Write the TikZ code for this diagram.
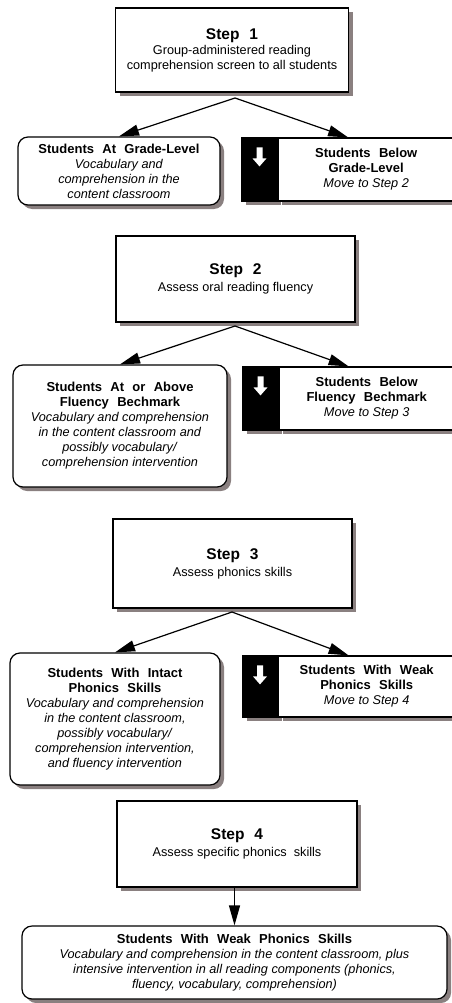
\documentclass[tikz,border=0pt]{standalone}
\usepackage{fontspec}
\setmainfont{Liberation Sans}
\newfontfamily\headfont[WordSpace=2.3]{Liberation Sans}
\usetikzlibrary{arrows.meta,shadows,calc}
\definecolor{shadowgray}{RGB}{138,128,128}

\newcommand\steptitle[1]{{\headfont\bfseries\fontsize{15.5}{17}\selectfont #1}}
\newcommand\grouphead[1]{{\headfont\bfseries\fontsize{13}{15}\selectfont #1}}

\begin{document}
\begin{tikzpicture}[x=1pt, y=1pt, line width=1.2pt,
    >={Triangle[length=20pt,width=11pt]},
    font=\fontsize{12.7}{15}\selectfont,
    box/.style={draw, fill=white, align=center, inner sep=0pt,
      drop shadow={shadow xshift=4pt, shadow yshift=-4pt, fill=shadowgray, opacity=1}},
    stepbox/.style={box},
    outcome/.style={box, rounded corners=10pt},
    stripe/.style={box, fill=black, minimum width=35},
    movebox/.style={box, anchor=west},
    pics/downmark/.style={code={
      \fill[white] (-3,-10) -- (3,-10) -- (3,-21) -- (7,-21) -- (0,-29)
        -- (-7,-21) -- (-3,-21) -- cycle;}}]
    \useasboundingbox (0,0) rectangle (451,-1003);

    % Step 1
    \node[stepbox, minimum width=233, minimum height=84] (step1) at (232,-50)
      {\steptitle{Step 1}\\ Group-administered reading\\ comprehension screen to all students};
    \node[outcome, minimum width=202, minimum height=68] (grade1) at (119,-171)
      {\grouphead{Students At Grade-Level}\\ \textit{Vocabulary and}\\
       \textit{comprehension in the}\\ \textit{content classroom}};
    \node[stripe, minimum height=63] (mark1) at (259.5,-169.5) {};
    \pic at (mark1.north) {downmark};
    \node[movebox, minimum width=176, minimum height=63] (below1) at (mark1.east)
      {\grouphead{Students Below}\\ \grouphead{Grade-Level}\\ \textit{Move to Step 2}};
    \coordinate (fork1) at (235,-98);
    \draw[->] (fork1) -- (grade1.north);
    \draw[->] (fork1) -- ($(mark1.north west)!0.5!(below1.north east)$);

    % Step 2
    \node[stepbox, minimum width=239, minimum height=86] (step2) at (235.5,-279)
      {\steptitle{Step 2}\\[2pt] Assess oral reading fluency};
    \node[outcome, minimum width=214, minimum height=122] (fluent2) at (120,-426)
      {\grouphead{Students At or Above}\\ \grouphead{Fluency Bechmark}\\
       \textit{Vocabulary and comprehension}\\ \textit{in the content classroom and}\\
       \textit{possibly vocabulary/}\\ \textit{comprehension intervention}};
    \node[stripe, minimum height=63] (mark2) at (260.5,-398.5) {};
    \pic at (mark2.north) {downmark};
    \node[movebox, minimum width=175, minimum height=63] (below2) at (mark2.east)
      {\grouphead{Students Below}\\ \grouphead{Fluency Bechmark}\\ \textit{Move to Step 3}};
    \coordinate (fork2) at (235,-326);
    \draw[->] (fork2) -- (fluent2.north);
    \draw[->] (fork2) -- ($(mark2.north west)!0.5!(below2.north east)$);

    % Step 3
    \node[stepbox, minimum width=239, minimum height=89] (step3) at (232.5,-563.5)
      {\steptitle{Step 3}\\[2pt] Assess phonics skills};
    \node[outcome, minimum width=210, minimum height=132] (intact3) at (115,-719)
      {\grouphead{Students With Intact}\\ \grouphead{Phonics Skills}\\
       \textit{Vocabulary and comprehension}\\ \textit{in the content classroom,}\\
       \textit{possibly vocabulary/}\\ \textit{comprehension intervention,}\\
       \textit{and fluency intervention}};
    \node[stripe, minimum height=61] (mark3) at (260,-686.5) {};
    \pic at (mark3.north) {downmark};
    \node[movebox, minimum width=176, minimum height=61] (below3) at (mark3.east)
      {\grouphead{Students With Weak}\\ \grouphead{Phonics Skills}\\ \textit{Move to Step 4}};
    \coordinate (fork3) at (232,-612);
    \draw[->] (fork3) -- (intact3.north);
    \draw[->] (fork3) -- ($(mark3.north west)!0.5!(below3.north east)$);

    % Step 4
    \node[stepbox, minimum width=240, minimum height=86] (step4) at (237,-844)
      {\steptitle{Step 4}\\[2pt] Assess specific phonics\ \ skills};
    \node[outcome, minimum width=425, minimum height=73] (weak4) at (234.5,-962.5)
      {\grouphead{Students With Weak Phonics Skills}\\
       \textit{Vocabulary and comprehension in the content classroom, plus}\\
       \textit{intensive intervention in all reading components (phonics,}\\
       \textit{fluency, vocabulary, comprehension)}};
    \draw[->] (step4.south -| weak4.north) -- (weak4.north);
\end{tikzpicture}
\end{document}
